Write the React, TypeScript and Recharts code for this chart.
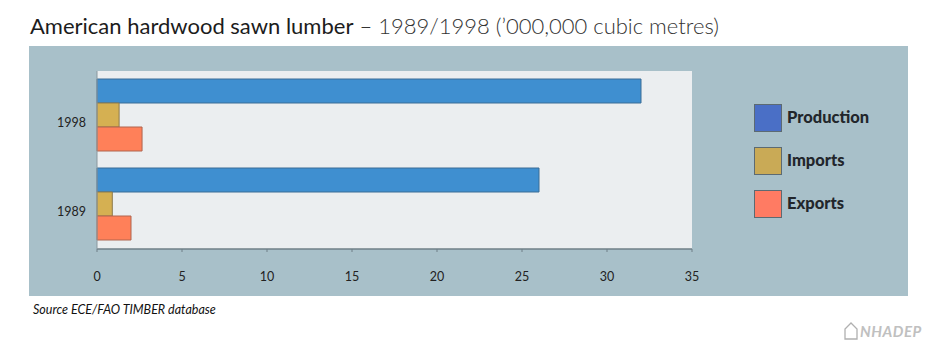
import React from 'react';
import { BarChart, Bar, XAxis, YAxis, CartesianGrid, Legend } from 'recharts';

const years = ['1998', '1989'];
const production = [32, 26];
const imports = [1.3, 0.9];
const exportsV = [2.65, 2.0];
const xTicks = [0, 5, 10, 15, 20, 25, 30, 35];
const seriesNames = ['Production', 'Imports', 'Exports'];

const data = years.map((y, i) => ({
  year: y,
  Production: production[i],
  Imports: imports[i],
  Exports: exportsV[i],
}));

const legendColors: Record<string, string> = {
  Production: '#4a6fc6',
  Imports: '#c9aa56',
  Exports: '#ff7b63',
};

const FONT = 'Lato, "Open Sans", sans-serif';

const LegendContent = () => {
  return (
    <div style={{ fontFamily: FONT }}>
      {seriesNames.map((name) => (
        <div key={name} style={{ display: 'flex', alignItems: 'flex-start', height: 43 }}>
          <div
            style={{
              width: 28,
              height: 28,
              flex: 'none',
              background: legendColors[name],
              border: '1px solid #5c6a72',
              boxSizing: 'border-box',
            }}
          />
          <span style={{ marginLeft: 5, fontWeight: 900, fontSize: 16.5, color: '#22262b', lineHeight: '26px' }}>{name}</span>
        </div>
      ))}
    </div>
  );
};

export default function App() {
  return (
    <div style={{ position: 'absolute', left: 0, top: 0, width: 943, height: 351, background: '#fff', overflow: 'hidden' }}>
      <div style={{ position: 'absolute', left: 30, top: 12, fontFamily: FONT, fontSize: 22, color: '#1c1c1c', whiteSpace: 'nowrap' }}>
        <span style={{ fontWeight: 400 }}>American hardwood sawn lumber</span>
        <span style={{ fontWeight: 300, color: '#333' }}> – 1989/1998 (’000,000 cubic metres)</span>
      </div>
      <div style={{ position: 'absolute', left: 29, top: 46, width: 879, height: 250, background: '#a8c0c9' }} />
      <div style={{ position: 'absolute', left: 0, top: 0 }}>
        <BarChart
          width={943}
          height={351}
          data={data}
          layout="vertical"
          margin={{ top: 71, right: 251, bottom: 62, left: 37 }}
          barCategoryGap={8}
          barGap={0}
        >
          <CartesianGrid horizontal={false} vertical={false} fill="#ebeef0" />
          <XAxis
            type="number"
            domain={[0, 35]}
            ticks={xTicks}
            interval={0}
            height={40}
            tickSize={3}
            tickMargin={20}
            stroke="#6f7f87"
            axisLine={{ stroke: '#6f7f87', strokeWidth: 1.5 }}
            tick={{ fill: '#222', fontSize: 12.5, fontFamily: FONT }}
          />
          <XAxis xAxisId="top" orientation="top" type="number" domain={[0, 35]} height={0} tick={false} tickLine={false} axisLine={{ stroke: '#7d8b92', strokeWidth: 1.5 }} />
          <YAxis
            dataKey="year"
            type="category"
            width={60}
            tickLine={false}
            tickMargin={5}
            axisLine={{ stroke: '#8a979d' }}
            tick={{ fill: '#222', fontSize: 12.5, fontFamily: FONT, dy: 7 }}
          />
          <YAxis yAxisId="right" orientation="right" dataKey="year" type="category" width={0} tick={false} tickLine={false} axisLine={{ stroke: '#7d8b92', strokeWidth: 1.5 }} />
          <Legend
            layout="vertical"
            verticalAlign="middle"
            align="center"
            content={<LegendContent />}
            wrapperStyle={{ position: 'absolute', left: 754, top: 104, width: 160 }}
          />
          <Bar dataKey="Production" fill="#3f8fd0" stroke="#3b6d96" strokeWidth={1} isAnimationActive={false} />
          <Bar dataKey="Imports" fill="#d5b052" stroke="#8c7a4c" strokeWidth={1} isAnimationActive={false} />
          <Bar dataKey="Exports" fill="#ff8059" stroke="#b0654f" strokeWidth={1} isAnimationActive={false} />
        </BarChart>
      </div>
      <div style={{ position: 'absolute', left: 33, top: 302, fontFamily: FONT, fontStyle: 'italic', fontSize: 12.5, color: '#111' }}>
        Source ECE/FAO TIMBER database
      </div>
      <div style={{ position: 'absolute', left: 844, top: 322, display: 'flex', alignItems: 'flex-end', color: '#b8b8b8' }}>
        <svg width="14" height="18" viewBox="0 0 14 18">
          <path d="M1 17 L1 7 L7 1 L13 7 L13 17 Z" fill="none" stroke="#b0b0b0" strokeWidth="1.3" />
        </svg>
        <span style={{ fontFamily: FONT, fontStyle: 'italic', fontWeight: 700, fontSize: 15, letterSpacing: 0.5, marginLeft: 2, color: '#c0c0c0' }}>NHADEP</span>
      </div>
    </div>
  );
}
